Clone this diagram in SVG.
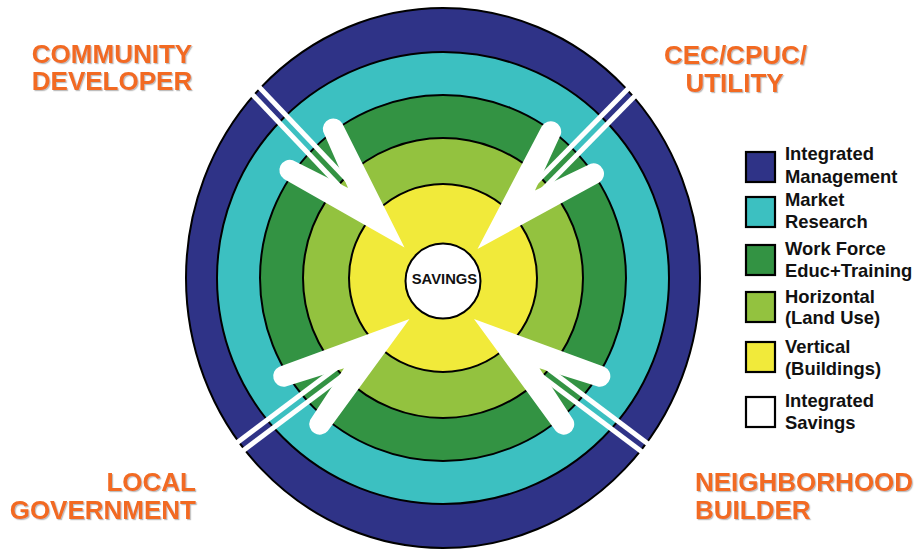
<svg xmlns="http://www.w3.org/2000/svg" width="921" height="554" viewBox="0 0 921 554">
  <defs>
    <style>
      .ring { stroke: #000; stroke-width: 2; }
      .lbl { font-family: "Liberation Sans", Arial, sans-serif; font-weight: bold; font-size: 26px; fill: #F26A21; filter: url(#sh); }
      .leg { font-family: "Liberation Sans", Arial, sans-serif; font-weight: bold; font-size: 18.4px; fill: #111; }
      .sw { stroke: #000; stroke-width: 2.2; }
      .shaft { stroke: #fff; stroke-width: 5; }
      .head { fill: #fff; }
    </style>
    <filter id="sh" x="-10%" y="-20%" width="120%" height="150%">
      <feDropShadow dx="1.2" dy="1.2" stdDeviation="0.6" flood-color="#888" flood-opacity="0.55"/>
    </filter>
    <g id="arrow">
      <line class="shaft" x1="-80" y1="-5" x2="-238" y2="-5"/>
      <line class="shaft" x1="-80" y1="5" x2="-238" y2="5"/>
      <path class="head" d="M0,0 L-132.7,-40.25 A10.5,10.5 0 0 0 -140.2,-20.9 L-82,0 L-140.2,20.9 A10.5,10.5 0 0 0 -132.7,40.25 Z"/>
    </g>
  </defs>
  <rect width="921" height="554" fill="#fff"/>

  <g id="target">
    <ellipse id="ring-management" class="ring" cx="443" cy="278" rx="257" ry="270" fill="#2F3387"/>
    <circle id="ring-market" class="ring" cx="443" cy="278" r="226" fill="#3CC0C1"/>
    <circle id="ring-workforce" class="ring" cx="443" cy="278" r="183" fill="#339343"/>
    <circle id="ring-horizontal" class="ring" cx="443" cy="278" r="140" fill="#93C23F"/>
    <circle id="ring-vertical" class="ring" cx="443" cy="278" r="94" fill="#F1EA3A"/>
  </g>

  <g id="connectors">
    <use href="#arrow" transform="translate(404.5,247.5) rotate(46.5)"/>
    <use href="#arrow" transform="translate(477.5,249) rotate(134.5)"/>
    <use href="#arrow" transform="translate(409.5,319) rotate(-37)"/>
    <use href="#arrow" transform="translate(474,319) rotate(-143)"/>
  </g>

  <g id="savings">
    <circle class="ring" cx="443" cy="281" r="37.5" fill="#fff"/>
    <text x="444.5" y="283.5" text-anchor="middle" font-family="Liberation Sans, Arial, sans-serif" font-weight="bold" font-size="14.8" fill="#111">SAVINGS</text>
  </g>

  <g id="community-developer">
    <text class="lbl" x="112" y="62.5" text-anchor="middle">COMMUNITY</text>
    <text class="lbl" x="112" y="90" text-anchor="middle">DEVELOPER</text>
  </g>
  <g id="cec-cpuc-utility">
    <text class="lbl" x="735.5" y="63.5" text-anchor="middle">CEC/CPUC/</text>
    <text class="lbl" x="734.5" y="91.5" text-anchor="middle">UTILITY</text>
  </g>
  <g id="local-government">
    <text class="lbl" x="196" y="490.5" text-anchor="end" font-size="25.5">LOCAL</text>
    <text class="lbl" x="196" y="518.5" text-anchor="end" font-size="25.5">GOVERNMENT</text>
  </g>
  <g id="neighborhood-builder">
    <text class="lbl" x="695" y="491">NEIGHBORHOOD</text>
    <text class="lbl" x="695" y="518.5">BUILDER</text>
  </g>

  <g id="legend">
    <g id="legend-management">
      <rect class="sw" x="746" y="152" width="29" height="30" fill="#2F3387"/>
      <text class="leg" x="785" y="160">Integrated</text>
      <text class="leg" x="785" y="182.5">Management</text>
    </g>
    <g id="legend-market">
      <rect class="sw" x="746" y="197" width="29" height="30" fill="#3CC0C1"/>
      <text class="leg" x="785" y="205.5">Market</text>
      <text class="leg" x="785" y="227.5">Research</text>
    </g>
    <g id="legend-workforce">
      <rect class="sw" x="746" y="245" width="29" height="30" fill="#339343" stroke-width="3"/>
      <text class="leg" x="785" y="255">Work Force</text>
      <text class="leg" x="785" y="277">Educ+Training</text>
    </g>
    <g id="legend-horizontal">
      <rect class="sw" x="746" y="292" width="29" height="30" fill="#93C23F"/>
      <text class="leg" x="785" y="302.5">Horizontal</text>
      <text class="leg" x="785" y="324">(Land Use)</text>
    </g>
    <g id="legend-vertical">
      <rect class="sw" x="746" y="342" width="29" height="30" fill="#F1EA3A"/>
      <text class="leg" x="785" y="352.5">Vertical</text>
      <text class="leg" x="785" y="374.5">(Buildings)</text>
    </g>
    <g id="legend-savings">
      <rect class="sw" x="746" y="397" width="29" height="30" fill="#fff"/>
      <text class="leg" x="785" y="407">Integrated</text>
      <text class="leg" x="785" y="428.5">Savings</text>
    </g>
  </g>
</svg>
